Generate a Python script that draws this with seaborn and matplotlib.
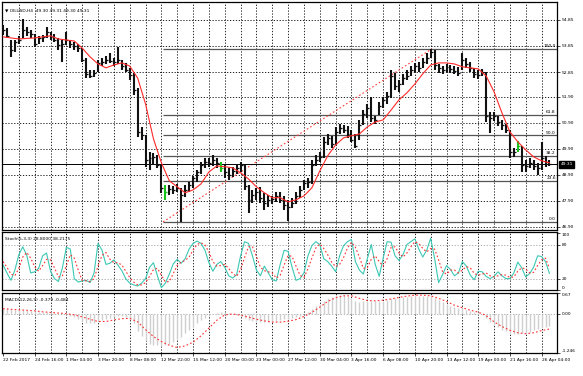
import numpy as np
import matplotlib
matplotlib.use("Agg")
import matplotlib.pyplot as plt
import matplotlib.transforms as mtransforms
import seaborn as sns

sns.set_theme(style="white")
plt.rcParams["font.family"] = ["DejaVu Sans"]

# ---- OILUSD H4, one point per 2 bars ----
bar_high = [
    54.66, 54.54, 54.08, 54.08, 54.24, 54.89, 54.58, 54.47, 54.31, 54.24,
    54.27, 54.58, 54.39, 54.31, 54.16, 54.08, 54.39, 54.08, 54.01, 53.93,
    53.77, 53.39, 52.93, 52.93, 53.31, 53.39, 53.47, 53.58, 53.39, 53.81,
    53.31, 53.20, 53.01, 52.81, 52.24, 50.74, 50.43, 49.78, 49.74, 49.67,
    49.28, 48.51, 48.51, 48.48, 48.55, 48.40, 48.51, 48.63, 48.86, 49.09,
    49.40, 49.55, 49.55, 49.67, 49.55, 49.40, 49.28, 49.17, 49.21, 49.32,
    49.40, 49.28, 48.51, 48.32, 48.40, 48.44, 48.21, 48.13, 48.09, 48.25,
    48.25, 48.09, 47.94, 48.02, 48.25, 48.48, 48.71, 48.78, 49.47, 49.67,
    49.78, 50.36, 50.47, 50.40, 50.74, 50.86, 50.82, 50.78, 50.63, 50.47,
    51.01, 51.39, 51.62, 51.89, 51.16, 51.70, 51.89, 52.09, 52.93, 52.81,
    52.55, 52.78, 52.93, 53.08, 53.20, 53.24, 53.39, 53.58, 53.74, 53.70,
    53.16, 53.08, 53.16, 53.12, 53.08, 53.05, 53.58, 53.39, 53.24, 53.01,
    52.93, 52.97, 52.85, 51.32, 51.32, 51.16, 51.01, 50.86, 50.63, 49.94,
    50.20, 50.01, 49.47, 49.55, 49.47, 49.36, 50.17, 49.63, 49.47,
]
bar_low = [
    54.27, 54.16, 53.43, 53.62, 53.93, 54.16, 54.24, 54.16, 53.81, 53.93,
    54.01, 54.16, 54.08, 54.01, 53.70, 53.24, 53.89, 53.77, 53.70, 53.62,
    53.24, 52.62, 52.62, 52.66, 52.85, 53.08, 53.16, 53.20, 53.08, 53.16,
    52.93, 52.85, 52.55, 51.97, 50.36, 50.24, 49.21, 49.09, 49.28, 49.17,
    48.21, 47.94, 48.13, 48.17, 48.25, 47.09, 48.05, 48.25, 48.40, 48.63,
    48.94, 49.17, 49.21, 49.24, 49.17, 49.01, 48.78, 48.71, 48.82, 48.94,
    49.01, 48.32, 47.44, 47.82, 47.94, 47.82, 47.55, 47.67, 47.78, 47.86,
    47.82, 47.55, 47.12, 47.63, 47.78, 48.02, 48.32, 48.40, 48.55, 49.24,
    49.40, 49.55, 50.05, 49.94, 50.05, 50.47, 50.51, 50.32, 50.17, 49.94,
    50.24, 50.82, 51.09, 50.93, 50.86, 51.20, 51.47, 51.62, 51.85, 52.16,
    52.09, 52.35, 52.55, 52.70, 52.85, 52.85, 53.01, 53.16, 53.39, 52.93,
    52.81, 52.78, 52.85, 52.81, 52.78, 52.70, 52.93, 53.01, 52.85, 52.62,
    52.58, 52.70, 50.93, 50.51, 50.97, 50.78, 50.63, 50.51, 49.55, 49.59,
    49.78, 49.01, 49.01, 49.17, 49.09, 48.90, 49.09, 49.21, 49.24,
]
bar_close = [
    54.47, 54.24, 53.70, 54.01, 54.08, 54.47, 54.39, 54.31, 53.93, 54.16,
    54.20, 54.39, 54.20, 54.08, 53.89, 53.93, 54.08, 53.93, 53.85, 53.77,
    53.31, 52.78, 52.70, 52.81, 53.20, 53.24, 53.31, 53.28, 53.24, 53.31,
    53.08, 52.93, 52.74, 52.16, 50.55, 50.43, 49.47, 49.55, 49.59, 49.28,
    48.40, 48.25, 48.36, 48.32, 48.40, 48.13, 48.32, 48.51, 48.78, 49.01,
    49.28, 49.40, 49.36, 49.47, 49.36, 49.17, 49.01, 48.90, 49.05, 49.17,
    49.28, 48.48, 47.94, 48.13, 48.25, 48.02, 47.82, 47.94, 47.98, 48.09,
    47.94, 47.75, 47.67, 47.82, 48.09, 48.32, 48.59, 48.63, 49.28, 49.47,
    49.59, 50.17, 50.32, 50.09, 50.55, 50.70, 50.63, 50.47, 50.24, 50.01,
    50.82, 51.24, 51.47, 51.09, 51.01, 51.55, 51.78, 51.93, 52.70, 52.32,
    52.39, 52.62, 52.70, 52.93, 53.08, 53.01, 53.24, 53.39, 53.62, 53.12,
    53.01, 52.93, 53.05, 52.97, 52.89, 52.81, 53.31, 53.16, 53.01, 52.78,
    52.74, 52.85, 51.16, 51.09, 51.16, 50.93, 50.82, 50.63, 49.78, 49.78,
    50.01, 49.28, 49.24, 49.36, 49.24, 49.17, 49.55, 49.40, 49.31,
]
green_bars = [41, 55, 130]

# moving average, every other point
ma_line = [
    54.20, 54.16, 54.12, 54.14, 54.16, 54.20, 54.24, 54.12, 54.08, 54.04,
    53.77, 53.43, 53.16, 53.01, 53.12, 53.20, 53.08, 52.62, 51.62, 50.28,
    49.36, 48.67, 48.44, 48.21, 48.32, 48.55, 49.01, 49.24, 49.21, 49.17,
    48.98, 48.74, 48.44, 48.21, 48.02, 48.02, 47.86, 47.94, 48.09, 48.40,
    49.05, 49.63, 50.05, 50.32, 50.40, 50.47, 50.74, 50.93, 51.01, 51.39,
    51.78, 52.05, 52.39, 52.78, 53.12, 53.20, 53.20, 53.16, 53.05, 53.01,
    52.97, 52.70, 52.09, 51.28, 50.55, 50.17, 49.86, 49.59, 49.44, 49.36,
]

stoch_k = [
    44, 30, 17, 35, 62, 76, 61, 30, 32, 38,
    60, 65, 33, 20, 15, 39, 75, 72, 20, 14,
    16, 17, 13, 30, 82, 70, 45, 47, 53, 44,
    34, 20, 12, 9, 7, 12, 20, 40, 48, 25,
    4, 12, 28, 46, 54, 47, 55, 72, 82, 86,
    82, 70, 48, 33, 45, 50, 40, 25, 21, 27,
    60, 85, 82, 60, 35, 25, 42, 30, 18, 16,
    45, 70, 68, 40, 17, 20, 30, 60, 78, 85,
    80, 55, 50, 42, 32, 60, 78, 85, 89, 50,
    35, 28, 55, 80, 45, 24, 56, 85, 84, 60,
    52, 62, 80, 85, 90, 72, 58, 70, 91, 55,
    13, 27, 43, 36, 25, 30, 50, 42, 26, 18,
    33, 32, 24, 20, 24, 32, 25, 20, 20, 30,
    49, 39, 23, 29, 40, 60, 59, 50, 29,
]
stoch_d = [
    50, 40, 28, 25, 38, 58, 66, 56, 41, 33,
    43, 54, 53, 39, 23, 25, 43, 62, 56, 35,
    17, 16, 15, 20, 42, 61, 66, 54, 48, 48,
    44, 33, 22, 14, 9, 9, 13, 24, 36, 38,
    26, 14, 15, 29, 43, 49, 52, 58, 70, 80,
    83, 79, 67, 50, 42, 43, 45, 38, 29, 24,
    36, 57, 76, 76, 59, 40, 34, 32, 30, 21,
    26, 44, 61, 59, 42, 26, 22, 37, 56, 74,
    81, 73, 62, 49, 41, 45, 57, 74, 84, 75,
    58, 38, 39, 54, 60, 50, 42, 55, 75, 76,
    65, 58, 65, 76, 85, 82, 73, 67, 73, 72,
    53, 32, 28, 35, 35, 30, 35, 41, 39, 29,
    26, 28, 30, 25, 23, 25, 27, 26, 22, 23,
    33, 39, 37, 30, 31, 43, 53, 56, 38,
]

macd_hist = [
    0.18, 0.18, 0.15, 0.14, 0.13, 0.14, 0.13, 0.11, 0.08, 0.07,
    0.06, 0.07, 0.05, 0.03, 0.01, -0.01, -0.02, -0.05, -0.10, -0.16,
    -0.22, -0.28, -0.30, -0.28, -0.22, -0.18, -0.15, -0.12, -0.10, -0.08,
    -0.08, -0.10, -0.15, -0.30, -0.55, -0.70, -0.85, -0.95, -1.00, -1.00,
    -1.02, -1.00, -0.95, -0.88, -0.80, -0.72, -0.62, -0.52, -0.42, -0.30,
    -0.20, -0.12, -0.05, 0.01, 0.04, 0.05, 0.05, 0.03, 0.01, -0.02,
    -0.05, -0.12, -0.18, -0.22, -0.25, -0.26, -0.27, -0.27, -0.26, -0.24,
    -0.20, -0.17, -0.16, -0.14, -0.10, -0.06, 0.00, 0.06, 0.15, 0.24,
    0.32, 0.42, 0.50, 0.55, 0.58, 0.60, 0.60, 0.57, 0.50, 0.40,
    0.38, 0.40, 0.42, 0.42, 0.40, 0.40, 0.43, 0.45, 0.50, 0.52,
    0.52, 0.53, 0.55, 0.57, 0.58, 0.58, 0.58, 0.58, 0.58, 0.52,
    0.45, 0.38, 0.32, 0.27, 0.22, 0.20, 0.18, 0.14, 0.10, 0.06,
    0.03, 0.00, -0.12, -0.25, -0.35, -0.43, -0.50, -0.55, -0.62, -0.65,
    -0.64, -0.62, -0.60, -0.57, -0.52, -0.47, -0.42, -0.40, -0.38,
]
# signal line, every other point
macd_signal = [
    0.17, 0.15, 0.13, 0.12, 0.10, 0.07, 0.05, 0.03, 0.01, -0.03,
    -0.09, -0.17, -0.24, -0.24, -0.19, -0.15, -0.14, -0.25, -0.50, -0.72,
    -0.88, -1.00, -1.07, -1.02, -0.90, -0.70, -0.45, -0.20, -0.03, 0.00,
    -0.04, -0.10, -0.17, -0.22, -0.26, -0.26, -0.23, -0.18, -0.08, 0.05,
    0.22, 0.40, 0.52, 0.58, 0.58, 0.50, 0.43, 0.42, 0.44, 0.48,
    0.53, 0.57, 0.60, 0.60, 0.58, 0.50, 0.40, 0.28, 0.20, 0.12,
    0.06, -0.05, -0.25, -0.40, -0.52, -0.60, -0.63, -0.60, -0.53, -0.48,
]

time_labels = [
    "22 Feb 2017", "24 Feb 16:00", "1 Mar 04:00", "3 Mar 20:00", "8 Mar 08:00",
    "12 Mar 22:00", "15 Mar 12:00", "20 Mar 00:00", "23 Mar 00:00", "27 Mar 12:00",
    "30 Mar 04:00", "3 Apr 16:00", "6 Apr 08:00", "10 Apr 20:00", "13 Apr 12:00",
    "19 Apr 00:00", "21 Apr 16:00", "26 Apr 04:00",
]
price_ticks = [54.85, 53.85, 52.85, 51.90, 50.90, 49.90, 48.90, 47.90, 46.90]

fib_levels = [0.0, 23.6, 38.2, 50.0, 61.8, 100.0]
fib_low, fib_high = 47.09, 53.74
fib_t0, fib_t1 = 40.4, 108.3
last_price = 49.31

# ---- layout (pixel boxes of the MT4 windows) ----
W, H = 583, 376
def box(top, bottom, left=2, right=557):
    return [left / W, 1 - bottom / H, (right - left) / W, (bottom - top) / H]

fig = plt.figure(figsize=(W / 100, H / 100), dpi=100)
fig.patch.set_facecolor("white")
ax_p = fig.add_axes(box(2, 230))
ax_s = fig.add_axes(box(232, 290), sharex=ax_p)
ax_m = fig.add_axes(box(293, 353), sharex=ax_p)

x = np.arange(len(bar_close))
x2 = x[::2]
xmax = 139.9
fs = 3.2
grid_kw = dict(color="black", lw=0.6, ls=(0, (1.5, 2.0)), zorder=0)

for ax in (ax_p, ax_s, ax_m):
    ax.set_facecolor("white")
    for s in ax.spines.values():
        s.set_color("black")
        s.set_linewidth(0.9)
    for t in range(4, 140, 4):
        ax.axvline(t, **grid_kw)
    ax.yaxis.tick_right()
    ax.tick_params(axis="y", which="both", left=False, right=True, labelleft=False,
                   labelright=True, length=2, width=0.5, pad=1.2, labelsize=fs,
                   colors="black")
    ax.tick_params(axis="x", bottom=False, labelbottom=False)

ax_p.set_xlim(-0.25, xmax)

# ---- price window ----
for v in price_ticks:
    ax_p.axhline(v, **grid_kw)

# fibonacci retracement
for lev in fib_levels:
    lvl = fib_low + (fib_high - fib_low) * lev / 100
    ax_p.hlines(lvl, fib_t0, xmax, color="#555555", lw=0.9, zorder=1)
    ax_p.text(xmax - 0.3, lvl + 0.03, f"{lev:.1f}", ha="right", va="bottom",
              fontsize=fs, color="black")
ax_p.plot([fib_t0, fib_t1], [fib_low, fib_high], color="#ff4040", lw=0.8,
          ls=(0, (1.5, 2.0)), zorder=2)

ax_p.axhline(last_price, color="black", lw=0.7, zorder=2)

colors = ["#19c219" if i in green_bars else "#111111" for i in x]
ax_p.vlines(x, bar_low, bar_high, colors=colors, lw=1.5, zorder=3)
ax_p.hlines(bar_close, x, x + 0.5, colors=colors, lw=0.9, zorder=3)

sns.lineplot(x=x2, y=ma_line, ax=ax_p, color="#ff2a2a", linewidth=0.8, zorder=4)

ax_p.set_ylim(46.78, 55.54)
ax_p.set_yticks(price_ticks, [f"{v:.2f}" for v in price_ticks])

trans = mtransforms.blended_transform_factory(ax_p.transAxes, ax_p.transData)
ax_p.text(1.006, last_price, f"{last_price:.2f}", transform=trans, ha="left",
          va="center", fontsize=fs, color="white", clip_on=False, zorder=10,
          bbox=dict(boxstyle="square,pad=0.35", fc="black", ec="black"))

fig.text(5 / W, 1 - 10 / H, "\u25bc OILUSD,H4  49.30 49.31 49.30 49.31",
         fontsize=fs, va="center", ha="left", color="black")

# ---- stochastic window ----
for v in (20, 80):
    ax_s.axhline(v, color="#a0a0a0", lw=0.6, ls=(0, (1.5, 2.0)), zorder=0)
sns.lineplot(x=x, y=stoch_k, ax=ax_s, color="#3cc8b4", linewidth=0.8)
sns.lineplot(x=x, y=stoch_d, ax=ax_s, color="#ff3030", linewidth=0.8,
             linestyle=(0, (1.5, 2.0)))
ax_s.set_ylim(0, 102)
ax_s.set_yticks([100, 80, 20, 0], ["100", "80", "20", "0"])
labs = ax_s.get_yticklabels()
labs[0].set_va("top")
labs[-1].set_va("bottom")
fig.text(5 / W, 1 - 239 / H, "Stoch(5,3,3) 28.8000 38.2175", fontsize=fs,
         va="center", ha="left", color="black")

# ---- MACD window ----
ax_m.axhline(0, color="#a0a0a0", lw=0.6, ls=(0, (1.5, 2.0)), zorder=0)
ax_m.vlines(x, 0, macd_hist, color="#cfcfcf", lw=1.0, zorder=1)
sns.lineplot(x=x2, y=macd_signal, ax=ax_m, color="#ff3030", linewidth=0.8,
             linestyle=(0, (1.5, 2.0)), zorder=3)
ax_m.set_ylim(-1.246, 0.67)
ax_m.set_yticks([0.67, 0.0, -1.246], ["0.67", "0.00", "-1.246"])
labs = ax_m.get_yticklabels()
labs[0].set_va("top")
labs[-1].set_va("bottom")
fig.text(5 / W, 1 - 300 / H, "MACD(12,26,9) -0.379 -0.484", fontsize=fs,
         va="center", ha="left", color="black")

ax_m.set_xticks(np.arange(0, 8 * len(time_labels), 8), time_labels)
ax_m.tick_params(axis="x", bottom=True, labelbottom=True, length=2, width=0.5,
                 pad=1.5, labelsize=fs, colors="black")
for lab in ax_m.get_xticklabels():
    lab.set_ha("left")

for ax in (ax_p, ax_s, ax_m):
    ax.set_xlabel("")
    ax.set_ylabel("")

fig.savefig("out.png", dpi=100, facecolor="white")
